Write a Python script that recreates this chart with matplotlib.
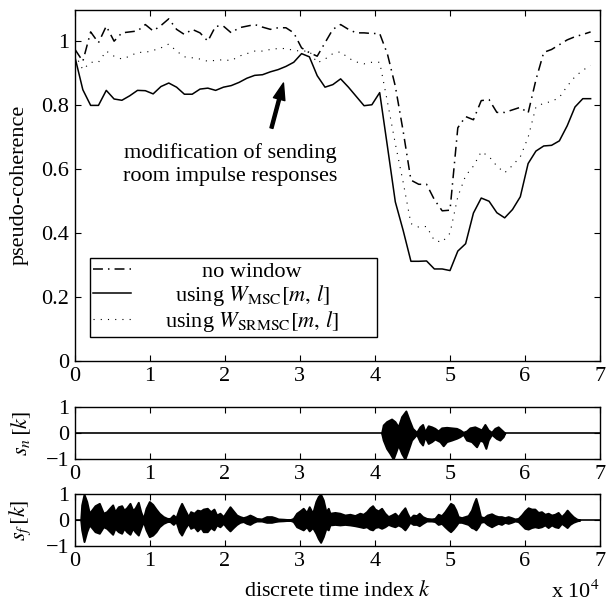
import numpy as np
import matplotlib
matplotlib.use("Agg")
import matplotlib.pyplot as plt

plt.rcParams.update({
    "font.family": "serif",
    "font.serif": ["Liberation Serif", "DejaVu Serif"],
    "mathtext.fontset": "stix",
    "font.size": 16,
    "axes.unicode_minus": True,
})

# ---------------- data ----------------
frame_hop = 1042  # samples between coherence estimates
msc_window = [0.95, 0.849, 0.80, 0.80, 0.847, 0.82, 0.816, 0.83, 0.847, 0.846,
              0.836, 0.859, 0.870, 0.857, 0.835, 0.835, 0.851, 0.854, 0.847, 0.857,
              0.862, 0.872, 0.885, 0.894, 0.896, 0.905, 0.912, 0.922, 0.935, 0.962,
              0.952, 0.893, 0.857, 0.865, 0.883, 0.857, 0.828, 0.799, 0.802, 0.840,
              0.67, 0.498, 0.409, 0.312, 0.312, 0.313, 0.288, 0.288, 0.283, 0.344,
              0.367, 0.463, 0.510, 0.500, 0.464, 0.448, 0.474, 0.514, 0.618, 0.657,
              0.673, 0.675, 0.689, 0.736, 0.795, 0.821, 0.821]
no_window = [0.975, 0.938, 1.03, 0.996, 1.048, 1.001, 1.027, 1.03, 1.033, 1.053,
             1.033, 1.05, 1.071, 1.038, 1.022, 1.038, 1.027, 1.001, 1.048, 1.048,
             1.027, 1.043, 1.048, 1.053, 1.045, 1.038, 1.043, 1.043, 1.027, 0.98,
             0.965, 0.954, 0.996, 1.038, 1.053, 1.038, 1.027, 1.027, 1.025, 1.025,
             0.96, 0.86, 0.72, 0.566, 0.553, 0.553, 0.505, 0.47, 0.472, 0.73,
             0.765, 0.755, 0.815, 0.818, 0.778, 0.778, 0.786, 0.794, 0.776, 0.88,
             0.966, 0.975, 0.99, 1.005, 1.015, 1.022, 1.03]
srmsc_window = [0.96, 0.912, 0.935, 0.935, 0.97, 0.954, 0.945, 0.954, 0.966, 0.966,
                0.972, 0.98, 0.992, 0.97, 0.952, 0.949, 0.945, 0.938, 0.941, 0.943,
                0.94, 0.954, 0.962, 0.97, 0.97, 0.975, 0.978, 0.978, 0.972, 0.97,
                0.97, 0.933, 0.945, 0.962, 0.968, 0.948, 0.936, 0.93, 0.935, 0.935,
                0.81, 0.68, 0.56, 0.43, 0.419, 0.421, 0.377, 0.372, 0.40, 0.514,
                0.58, 0.61, 0.655, 0.64, 0.61, 0.589, 0.612, 0.639, 0.70, 0.795,
                0.807, 0.812, 0.825, 0.86, 0.89, 0.91, 0.925]

# near-end signal s_n envelope (time in units of 1e4 samples)
sn_up_t = [4.089, 4.111, 4.156, 4.222, 4.267, 4.311, 4.356, 4.413, 4.458, 4.502,
           4.556, 4.6, 4.636, 4.667, 4.711, 4.756, 4.8, 4.844, 4.889, 4.956,
           5.022, 5.089, 5.133, 5.178, 5.222, 5.267, 5.333, 5.378, 5.422, 5.467,
           5.511, 5.556, 5.6, 5.644, 5.689, 5.733]
sn_up = [0, 0.31, 0.44, 0.54, 0.44, 0.24, 0.63, 0.85, 0.5, 0.18,
         0.03, 0.24, 0.33, 0.05, 0.28, 0.24, 0.18, 0.08, 0.2, 0.22,
         0.2, 0.18, 0.12, 0.03, 0.08, 0.2, 0.24, 0.18, 0.12, 0.33,
         0.12, 0.03, 0.18, 0.24, 0.12, 0]
sn_lo_t = [4.089, 4.111, 4.156, 4.2, 4.244, 4.28, 4.311, 4.356, 4.4, 4.444,
           4.489, 4.556, 4.6, 4.636, 4.667, 4.711, 4.756, 4.8, 4.867, 4.911,
           4.956, 5.022, 5.089, 5.133, 5.178, 5.222, 5.289, 5.356, 5.4, 5.444,
           5.48, 5.511, 5.556, 5.622, 5.667, 5.711, 5.733]
sn_lo = [0, -0.27, -0.59, -0.78, -1.0, -0.72, -0.46, -0.78, -1.0, -0.65,
         -0.27, -0.05, -0.33, -0.46, -0.14, -0.4, -0.33, -0.23, -0.33, -0.49,
         -0.33, -0.27, -0.2, -0.14, -0.05, -0.27, -0.33, -0.53, -0.27, -0.33,
         -0.59, -0.27, -0.05, -0.21, -0.27, -0.14, 0]

# far-end signal s_f envelope (time in units of 1e4 samples)
sf_t = [0.076, 0.089, 0.12, 0.156, 0.191, 0.222, 0.267, 0.324, 0.378, 0.422,
        0.467, 0.502, 0.533, 0.578, 0.622, 0.653, 0.689, 0.733, 0.769, 0.8,
        0.844, 0.876, 0.911, 0.947, 0.991, 1.036, 1.08, 1.124, 1.178, 1.231,
        1.267, 1.311, 1.347, 1.391, 1.422, 1.467, 1.511, 1.542, 1.587, 1.631,
        1.676, 1.711, 1.764, 1.809, 1.853, 1.889, 1.933, 1.978, 2.022, 2.067,
        2.111, 2.156, 2.2, 2.244, 2.289, 2.333, 2.378, 2.422, 2.489, 2.556,
        2.622, 2.667, 2.711, 2.778, 2.867, 2.911, 2.956, 3.0, 3.044, 3.089,
        3.124, 3.169, 3.213, 3.244, 3.276, 3.311, 3.347, 3.378,
        3.4, 3.467, 3.533, 3.6, 3.667, 3.733, 3.8, 3.844, 3.889, 3.933,
        3.969, 4.0, 4.044, 4.089, 4.133, 4.178, 4.222, 4.267, 4.311, 4.356,
        4.4, 4.431, 4.467, 4.511, 4.556, 4.591, 4.636, 4.689, 4.756, 4.8,
        4.844, 4.889, 4.933, 4.978, 5.009, 5.044, 5.08, 5.111, 5.156, 5.2,
        5.244, 5.289, 5.32, 5.347, 5.378, 5.409, 5.453, 5.498, 5.556, 5.6,
        5.644, 5.689, 5.733, 5.778, 5.822, 5.867, 5.911, 5.956, 6.0, 6.044,
        6.089, 6.133, 6.178, 6.222, 6.267, 6.311, 6.356, 6.4, 6.444, 6.489,
        6.533, 6.564, 6.6, 6.644, 6.689, 6.733]
sf_up = [0, 0.58, 0.99, 0.71, 0.26, 0.38, 0.55, 0.64, 0.26, 0.32,
         0.47, 0.58, 0.32, 0.51, 0.55, 0.38, 0.47, 0.64, 0.38, 0.45,
         0.68, 0.32, 0.06, 0.45, 0.71, 0.60, 0.42, 0.26, 0.13, 0.06,
         0.06, 0.19, 0.09, 0.45, 0.64, 0.38, 0.13, 0.32, 0.26, 0.38,
         0.35, 0.42, 0.45, 0.32, 0.42, 0.19, 0.26, 0.13, 0.32, 0.51,
         0.35, 0.19, 0.13, 0.09, 0.13, 0.19, 0.13, 0.06, 0.04, 0.13,
         0.13, 0.09, 0.04, 0.03, 0.01, 0.06, 0.26, 0.35, 0.45, 0.29,
         0.51, 0.26, 0.71, 0.9, 0.99, 0.77, 0.32, 0.45,
         0.26, 0.29, 0.26, 0.19, 0.22, 0.17, 0.26, 0.22, 0.32, 0.47,
         0.55, 0.42, 0.35, 0.45, 0.26, 0.13, 0.19, 0.26, 0.13, 0.32,
         0.47, 0.26, 0.06, 0.19, 0.17, 0.26, 0.13, 0.06, 0.04, 0.06,
         0.22, 0.17, 0.32, 0.51, 0.64, 0.58, 0.38, 0.13, 0.09, 0.13,
         0.17, 0.38, 0.64, 0.83, 0.51, 0.13, 0.09, 0.19, 0.24, 0.17,
         0.13, 0.13, 0.09, 0.13, 0.09, 0.04, 0.06, 0.19, 0.35, 0.47,
         0.42, 0.42, 0.29, 0.32, 0.22, 0.26, 0.19, 0.22, 0.29, 0.13,
         0.26, 0.38, 0.26, 0.13, 0.04, 0.0]
sf_lo = [0, -0.38, -0.83, -0.45, -0.19, -0.29, -0.45, -0.51, -0.26, -0.32,
         -0.45, -0.55, -0.32, -0.45, -0.51, -0.32, -0.45, -0.55, -0.32, -0.45,
         -0.58, -0.32, -0.06, -0.38, -0.64, -0.58, -0.45, -0.26, -0.13, -0.06,
         -0.06, -0.17, -0.06, -0.45, -0.58, -0.32, -0.13, -0.32, -0.26, -0.42,
         -0.29, -0.45, -0.45, -0.29, -0.38, -0.19, -0.26, -0.13, -0.29, -0.42,
         -0.29, -0.17, -0.09, -0.06, -0.13, -0.17, -0.09, -0.04, -0.04, -0.09,
         -0.09, -0.06, -0.04, -0.03, -0.01, -0.06, -0.26, -0.32, -0.38, -0.26,
         -0.42, -0.29, -0.51, -0.71, -0.86, -0.64, -0.32, -0.38,
         -0.19, -0.17, -0.19, -0.17, -0.19, -0.22, -0.26, -0.29, -0.26, -0.35,
         -0.38, -0.29, -0.26, -0.32, -0.26, -0.17, -0.22, -0.26, -0.19, -0.26,
         -0.38, -0.26, -0.09, -0.17, -0.17, -0.22, -0.13, -0.04, -0.04, -0.06,
         -0.17, -0.13, -0.26, -0.38, -0.45, -0.35, -0.22, -0.09, -0.09, -0.13,
         -0.17, -0.29, -0.32, -0.38, -0.26, -0.09, -0.06, -0.17, -0.26, -0.19,
         -0.13, -0.17, -0.09, -0.13, -0.09, -0.04, -0.06, -0.19, -0.32, -0.35,
         -0.29, -0.26, -0.29, -0.26, -0.19, -0.29, -0.19, -0.26, -0.29, -0.13,
         -0.22, -0.29, -0.17, -0.09, -0.04, 0.0]

x_ticks = [0, 1, 2, 3, 4, 5, 6, 7]
x_ticklabels = ["0", "1", "2", "3", "4", "5", "6", "7"]
y_ticks_main = [0, 0.2, 0.4, 0.6, 0.8, 1.0]
y_ticklabels_main = ["0", "0.2", "0.4", "0.6", "0.8", "1"]
y_ticks_sig = [-1, 0, 1]
y_ticklabels_sig = ["\u22121", "0", "1"]
legend_labels = ["no window", r"using $W_{\mathrm{MSC}}[m,\,l]$",
                 r"using $W_{\mathrm{SRMSC}}[m,\,l]$"]

scale = 1e4
k_frames = np.arange(len(msc_window)) * frame_hop

# ---------------- figure ----------------
fig = plt.figure(figsize=(6.06, 6.08), dpi=100)
L, W = 0.1238, 0.866
ax1 = fig.add_axes([L, 0.4063, W, 0.578])
ax2 = fig.add_axes([L, 0.245, W, 0.0855])
ax3 = fig.add_axes([L, 0.102, W, 0.0855])

lw_main = 1.1
h1, = ax1.plot(k_frames, no_window, color="k", lw=lw_main, dashes=(6.5, 3.3, 1, 3.3))
h2, = ax1.plot(k_frames, msc_window, color="k", lw=lw_main)
h3, = ax1.plot(k_frames, srmsc_window, color="k", lw=0.8, dashes=(1, 5.5))
ax1.set_ylim(0, 1.1)
ax1.set_yticks(y_ticks_main, labels=y_ticklabels_main)
ax1.set_ylabel("pseudo-coherence")
ax1.yaxis.set_label_coords(-0.088, 0.5)

# annotation arrow and text
ax1.annotate("", xy=(2.78 * scale, 0.870), xytext=(2.62 * scale, 0.729),
             arrowprops=dict(facecolor="black", edgecolor="black", width=2.2,
                             headwidth=8.5, headlength=12, shrink=0.0))
ax1.text(2.067 * scale, 0.616, "modification of sending\nroom impulse responses",
         ha="center", va="center", linespacing=1.3, fontsize=16)

leg = ax1.legend([h1, h2, h3], legend_labels, loc="upper left",
                 bbox_to_anchor=(0.0286, 0.0, 0.547, 0.293), mode="expand",
                 fancybox=False, framealpha=1,
                 edgecolor="black", handlelength=1.7, handletextpad=0.8,
                 labelspacing=0.05, borderpad=0.15, borderaxespad=0.0,
                 fontsize=16)
leg.get_frame().set_linewidth(1.0)

# signals
ax2.fill_between(np.array(sn_up_t) * scale, 0, sn_up, color="k", lw=1.4)
ax2.fill_between(np.array(sn_lo_t) * scale, sn_lo, 0, color="k", lw=1.4)
ax2.axhline(0, color="k", lw=1.2)
ax2.set_ylabel(r"$s_n\,[k]$")
ax2.yaxis.set_label_coords(-0.08, 0.5)

ax3.fill_between(np.array(sf_t) * scale, 0, sf_up, color="k", lw=1.4)
ax3.fill_between(np.array(sf_t) * scale, sf_lo, 0, color="k", lw=1.4)
ax3.axhline(0, color="k", lw=1.2)
ax3.set_ylabel(r"$s_f\,[k]$")
ax3.yaxis.set_label_coords(-0.08, 0.5)
ax3.set_xlabel(r"discrete time index $k$")
ax3.xaxis.set_label_coords(0.5, -0.68)
ax3.text(1.0, -0.66, r"x 10$^4$", transform=ax3.transAxes, ha="right", va="top",
         fontsize=16)

for ax in (ax2, ax3):
    ax.set_ylim(-1, 1)
    ax.set_yticks(y_ticks_sig, labels=y_ticklabels_sig)

for ax in (ax1, ax2, ax3):
    ax.set_xlim(0, 7 * scale)
    ax.set_xticks(np.array(x_ticks) * scale, labels=x_ticklabels)
    ax.tick_params(direction="in", top=True, right=True, length=4, width=0.8,
                   labelsize=16, pad=4)
    for s in ax.spines.values():
        s.set_linewidth(1.0)

# center legend texts in the space right of the handles, like the original
fig.canvas.draw()
r = fig.canvas.get_renderer()
texts = leg.get_texts()
exts = [t.get_window_extent(r) for t in texts]
frame_ext = leg.get_frame().get_window_extent(r)
x0 = min(e.x0 for e in exts)
target_c = (x0 + frame_ext.x1 - 22.0) / 2.0
for t, e in zip(texts, exts):
    t.set_x(target_c - (e.x0 + e.width / 2.0))

fig.savefig("out.png", dpi=100)
